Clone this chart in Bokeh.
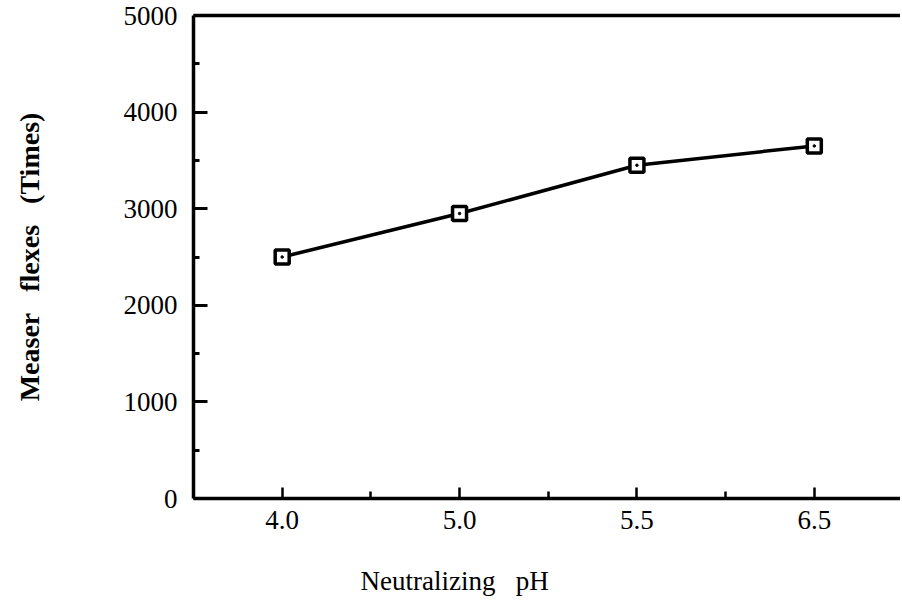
from bokeh.plotting import figure
from bokeh.models import FixedTicker, LinearAxis, Range1d, Title
from bokeh.embed import file_html
from bokeh.resources import INLINE

ph_labels = ["4.0", "5.0", "5.5", "6.5"]
flexes = [2500, 2950, 3450, 3650]
y_ticks = [0, 1000, 2000, 3000, 4000, 5000]
y_minor = [500, 1500, 2500, 3500, 4500]
x_pos = list(range(len(ph_labels)))
x_minor = [0.5, 1.5, 2.5]

SERIF = "Liberation Serif"
NB = "\u00a0"

p = figure(width=900, height=611, frame_width=707, frame_height=483,
           output_backend="svg", toolbar_location=None,
           x_range=Range1d(-0.5, 3.486), y_range=Range1d(0, 5000),
           min_border_left=193, min_border_right=0, min_border_top=15,
           min_border_bottom=0, outline_line_color=None)
p.grid.visible = False

xa = p.xaxis[0]
xa.ticker = FixedTicker(ticks=x_pos, minor_ticks=x_minor)
xa.major_label_overrides = {i: s for i, s in zip(x_pos, ph_labels)}
xa.axis_line_width = 3.5
xa.major_tick_in = 11
xa.major_tick_out = 0
xa.minor_tick_in = 7
xa.minor_tick_out = 0
xa.major_tick_line_width = 2.5
xa.minor_tick_line_width = 2.5
xa.major_label_text_font = SERIF
xa.major_label_text_font_size = "27px"
xa.major_label_standoff = 12
xa.major_label_text_color = "black"

ya = p.yaxis[0]
ya.ticker = FixedTicker(ticks=y_ticks, minor_ticks=y_minor)
ya.axis_line_width = 3.5
ya.major_tick_in = 14
ya.major_tick_out = 0
ya.minor_tick_in = 6
ya.minor_tick_out = 0
ya.major_tick_line_width = 3
ya.minor_tick_line_width = 3
ya.major_label_text_font = SERIF
ya.major_label_text_font_size = "27px"
ya.major_label_standoff = 16
ya.major_label_text_color = "black"
ya.axis_label = f"Measer{NB}{NB}{NB}flexes{NB}{NB}{NB}(Times)"
ya.axis_label_text_font = SERIF
ya.axis_label_text_font_size = "28px"
ya.axis_label_text_font_style = "bold"
ya.axis_label_text_color = "black"
ya.axis_label_standoff = 76

top = LinearAxis(ticker=FixedTicker(ticks=[]), axis_line_width=3.5,
                 major_label_text_font_size="0px", major_tick_in=0, major_tick_out=0,
                 minor_tick_in=0, minor_tick_out=0)
p.add_layout(top, "above")

p.add_layout(Title(text=f"Neutralizing{NB}{NB}{NB}pH", text_font=SERIF,
                   text_font_size="27px", text_font_style="normal",
                   text_color="black", align="left", offset=167, standoff=65),
             "below")

p.line(x_pos, flexes, line_color="black", line_width=3.5)
p.scatter(x_pos, flexes, marker="square", size=14, fill_color="white",
          line_color="black", line_width=3.5)
p.scatter(x_pos, flexes, marker="circle", size=2.5, fill_color="black",
          line_color="black")

open("out.html", "w").write(file_html(p, INLINE))
